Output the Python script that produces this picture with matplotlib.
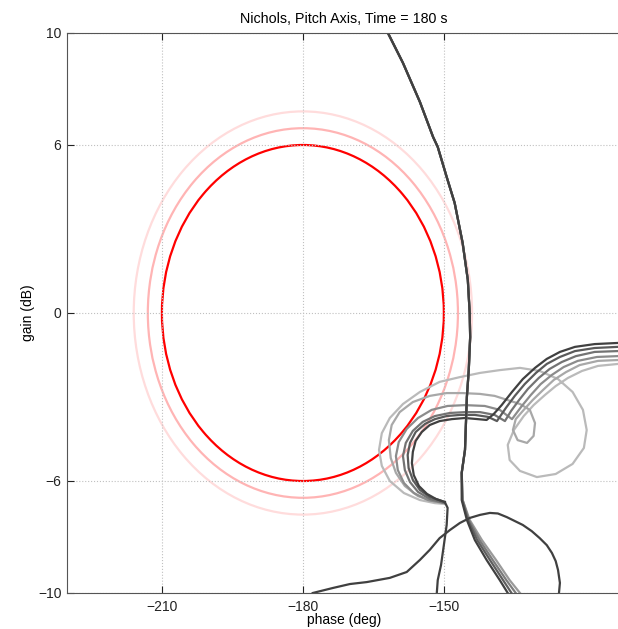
import matplotlib.pyplot as plt
from matplotlib.patches import Ellipse

plt.rcParams['font.family'] = ['Liberation Sans', 'DejaVu Sans']

# margin ellipses: centre, half widths (deg), half heights (dB)
ell_center = (-180, 0)
ell_dphase = [36, 33, 30]
ell_dgain = [7.2, 6.6, 6.0]
ell_colors = ['#ffdcdc', '#ffb4b4', '#ff0000']

# long curve, shared upper part, then fanned tails
a_phase = [-161.9, -158.7, -155.1, -152.3, -151.3, -149.4, -147.7, -146.0, -144.9,
           -144.5, -144.4, -144.7, -145.1, -145.5, -146.2]
a_gain = [10, 8.93, 7.54, 6.29, 5.93, 4.86, 3.93, 2.5, 1.18,
          0, -0.86, -2.04, -3.0, -4.89, -5.71]
tail_gain = [-6.68, -7.39, -8.11, -8.82, -9.54, -10]
tail_phase_1 = [-146.2, -145.1, -143.4, -140.9, -138.1, -136.4]
tail_phase_2 = [-146.1, -144.9, -142.9, -140.2, -137.4, -135.6]
tail_phase_3 = [-146.0, -144.7, -142.4, -139.6, -136.7, -134.7]
tail_phase_4 = [-146.0, -144.5, -141.9, -138.9, -136.0, -133.8]
tail_colors = ['#9a9a9a', '#7c7c7c', '#5e5e5e', '#404040']

# loop at the bottom
b_phase = [-177.9, -173.6, -170.0, -166.4, -161.5, -157.9, -155.1, -153.0, -150.9,
           -148.7, -146.6, -144.5, -142.3, -140.2, -138.5, -136.6, -133.2, -131.3,
           -129.6, -128.1, -127.0, -126.2, -125.7, -125.3, -125.5]
b_gain = [-10, -9.82, -9.68, -9.61, -9.46, -9.25, -8.82, -8.46, -8.04,
          -7.75, -7.5, -7.32, -7.21, -7.14, -7.16, -7.29, -7.57, -7.79,
          -8.04, -8.29, -8.57, -8.86, -9.18, -9.64, -10]

# hook family
c1_phase = [-113.0, -117.9, -122.1, -125.3, -128.1, -130.6, -133.2, -135.5, -137.7,
            -139.4, -140.9, -142.8, -145.5, -148.3, -150.9, -153.0, -154.7, -156.0,
            -156.6, -156.8, -156.4, -155.3, -153.6, -151.7, -149.8]
c1_gain = [-1.07, -1.11, -1.21, -1.39, -1.64, -1.96, -2.36, -2.82, -3.29,
           -3.61, -3.82, -3.79, -3.75, -3.79, -3.86, -4.0, -4.25, -4.57,
           -4.96, -5.36, -5.79, -6.18, -6.46, -6.64, -6.75]
c2_phase = [-113.0, -117.9, -122.1, -125.3, -128.1, -130.4, -132.8, -134.9, -136.8,
            -138.7, -140.6, -143.4, -146.6, -149.4, -151.9, -154.0, -156.0, -157.2,
            -157.7, -157.5, -156.6, -155.1, -153.0, -149.8]
c2_gain = [-1.21, -1.25, -1.36, -1.57, -1.82, -2.14, -2.54, -2.96, -3.39,
           -3.86, -3.71, -3.64, -3.64, -3.68, -3.79, -3.96, -4.25, -4.64,
           -5.07, -5.54, -5.96, -6.32, -6.57, -6.75]
c3_phase = [-113.0, -117.9, -121.9, -124.9, -127.5, -129.8, -132.1, -134.0, -135.7,
            -137.0, -139.2, -142.3, -145.5, -148.7, -151.9, -154.5, -156.6, -158.1,
            -158.7, -158.3, -157.2, -155.5, -153.0, -149.8]
c3_gain = [-1.36, -1.39, -1.54, -1.75, -2.0, -2.32, -2.71, -3.11, -3.5,
           -3.86, -3.64, -3.54, -3.54, -3.57, -3.68, -3.89, -4.21, -4.64,
           -5.11, -5.61, -6.04, -6.39, -6.64, -6.79]
c4_phase = [-113.0, -117.4, -121.5, -124.5, -127.0, -129.4, -131.5, -133.4, -135.5,
            -138.1, -141.3, -145.5, -149.2, -152.6, -155.5, -157.9, -159.6, -160.2,
            -159.8, -158.5, -156.4, -153.4, -149.8]
c4_gain = [-1.54, -1.57, -1.71, -1.93, -2.21, -2.54, -2.93, -3.32, -3.79,
           -3.46, -3.32, -3.29, -3.32, -3.46, -3.75, -4.14, -4.61, -5.11,
           -5.61, -6.07, -6.43, -6.68, -6.79]
c5_phase = [-113.0, -117.2, -121.1, -124.0, -126.6, -128.9, -131.1, -133.0, -134.7,
            -135.3, -134.3, -132.3, -130.9, -130.6, -131.7, -133.8, -136.4, -139.2,
            -142.3, -146.0, -149.4, -153.0, -156.6, -159.4, -161.1, -161.7, -161.3,
            -160.2, -158.3, -155.5, -152.6, -149.8]
c5_gain = [-1.68, -1.71, -1.86, -2.11, -2.39, -2.75, -3.11, -3.46, -3.79,
           -4.18, -4.54, -4.64, -4.39, -3.93, -3.46, -3.25, -3.11, -2.96,
           -2.89, -2.86, -2.86, -2.96, -3.18, -3.54, -4.0, -4.54, -5.18,
           -5.71, -6.18, -6.54, -6.71, -6.79]
c6_phase = [-113.0, -117.2, -120.6, -123.6, -126.2, -128.5, -130.9, -133.0, -135.1,
            -136.4, -136.0, -133.8, -130.2, -126.2, -122.6, -120.2, -119.6, -120.4,
            -122.6, -125.7, -129.6, -133.8, -138.1, -142.3, -146.6, -150.9, -155.1,
            -158.7, -161.5, -163.2, -163.8, -163.2, -161.5, -158.5, -155.1, -151.9,
            -149.8]
c6_gain = [-1.82, -1.89, -2.07, -2.32, -2.61, -2.93, -3.29, -3.68, -4.18,
           -4.71, -5.25, -5.64, -5.86, -5.75, -5.39, -4.82, -4.18, -3.46,
           -2.82, -2.36, -2.07, -1.96, -2.04, -2.14, -2.29, -2.46, -2.82,
           -3.25, -3.75, -4.29, -4.89, -5.46, -6.0, -6.43, -6.68, -6.79,
           -6.82]
hook_colors = ['#404040', '#5a5a5a', '#737373', '#8c8c8c', '#a8a8a8', '#bababa']
# common drop to the bottom edge
drop_phase = [-149.8, -149.2, -149.4, -150.0, -150.6, -151.3, -151.5]
drop_gain = [-6.75, -6.96, -7.57, -8.29, -9.0, -9.54, -10]

fig = plt.figure(figsize=(6.18, 6.29), dpi=100)
ax = fig.add_axes([67/618, 36/629, 554/618, 560/629])

for dp, dg, col in zip(ell_dphase, ell_dgain, ell_colors):
    ax.add_patch(Ellipse(ell_center, 2*dp, 2*dg, fill=False, edgecolor=col, lw=1.6))

hooks = [(c6_phase, c6_gain), (c5_phase, c5_gain), (c4_phase, c4_gain),
         (c3_phase, c3_gain), (c2_phase, c2_gain), (c1_phase, c1_gain)]
for (p, g), col in zip(hooks, hook_colors[::-1]):
    ax.plot(p, g, color=col, lw=1.6)
ax.plot(drop_phase, drop_gain, color=hook_colors[0], lw=1.6)

for tp, col in zip([tail_phase_4, tail_phase_3, tail_phase_2, tail_phase_1], tail_colors):
    ax.plot(a_phase + tp, a_gain + tail_gain, color=col, lw=1.6)

ax.plot(b_phase, b_gain, color='#404040', lw=1.6)

ax.set_xlim(-230.2, -112.3)
ax.set_ylim(-10, 10)
ax.set_xticks([-210, -180, -150])
ax.set_yticks([-10, -6, 0, 6, 10])
ax.grid(True, linestyle=':', color='#c0c0c0', lw=0.8)
ax.tick_params(direction='in', length=5, top=True, right=False, labelsize=10,
               colors='#222222')
ax.tick_params(axis='x', pad=5)
ax.tick_params(axis='y', pad=4)
for s in ax.spines.values():
    s.set_color('#555555')
ax.spines['right'].set_visible(False)
ax.set_title('Nichols, Pitch Axis, Time = 180 s', fontsize=10.3, pad=7)
ax.set_xlabel('phase (deg)', fontsize=10, labelpad=-1)
ax.set_ylabel('gain (dB)', fontsize=10, labelpad=2)

plt.savefig('out.png', dpi=100)
